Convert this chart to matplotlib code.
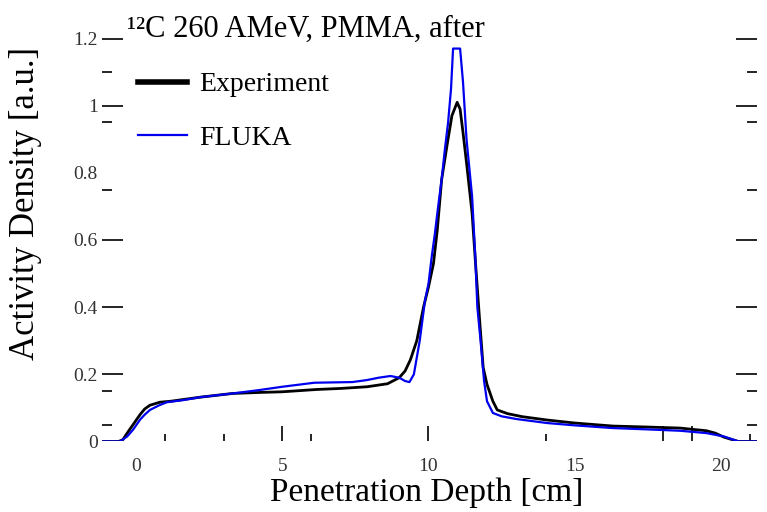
import matplotlib
matplotlib.use("Agg")
import matplotlib.pyplot as plt
from matplotlib.ticker import FixedLocator

plt.rcParams['font.family'] = ['Liberation Serif', 'DejaVu Serif']

# depth [cm] and activity density [a.u.]
x_exp = [-1.16, -0.6, -0.45, -0.3, -0.1, 0.14, 0.3, 0.48, 0.82, 1.2, 2.2, 3.3, 4.2,
         5.0, 6.2, 7.0, 7.9, 8.6, 9.0, 9.2, 9.38, 9.6, 9.83, 10.0, 10.17, 10.3,
         10.45, 10.63, 10.8, 10.98, 11.08, 11.18, 11.3, 11.49, 11.6, 11.74, 11.87,
         12.0, 12.2, 12.35, 12.7, 13.2, 14.05, 15.0, 16.3, 17.5, 18.6, 19.5, 19.8,
         20.1, 20.4, 20.6, 21.23]
y_exp = [0, 0, 0.005, 0.025, 0.05, 0.08, 0.097, 0.108, 0.117, 0.12, 0.132, 0.143, 0.146,
         0.148, 0.155, 0.158, 0.163, 0.172, 0.19, 0.21, 0.243, 0.30, 0.40, 0.46, 0.53, 0.63,
         0.78, 0.88, 0.97, 1.01, 0.99, 0.92, 0.83, 0.68, 0.54, 0.37, 0.22,
         0.17, 0.12, 0.094, 0.083, 0.074, 0.064, 0.055, 0.046, 0.043, 0.040, 0.032, 0.025,
         0.013, 0.005, 0.0, 0.0]

x_fluka = [-1.16, -0.55, -0.3, -0.1, 0.14, 0.3, 0.48, 0.8, 1.06, 1.6, 2.2, 3.3, 4.2,
           5.0, 6.1, 7.4, 7.9, 8.3, 8.7, 9.0, 9.2, 9.35, 9.5, 9.7, 9.88, 10.0, 10.11,
           10.22, 10.33, 10.45, 10.56, 10.67, 10.77, 10.84, 11.08, 11.18, 11.3, 11.49,
           11.6, 11.67, 11.78, 11.9, 12.0, 12.2, 12.5, 13.0, 14.05, 15.0, 16.3, 17.5,
           18.6, 19.5, 20.1, 20.4, 20.6, 21.23]
y_fluka = [0, 0, 0.015, 0.035, 0.065, 0.08, 0.094, 0.108, 0.117, 0.123, 0.132, 0.143, 0.153,
           0.163, 0.175, 0.177, 0.183, 0.19, 0.195, 0.19, 0.18, 0.177, 0.20, 0.30, 0.42, 0.47, 0.55,
           0.62, 0.70, 0.78, 0.87, 0.95, 1.05, 1.17, 1.17, 1.07, 0.90, 0.73,
           0.55, 0.40, 0.30, 0.18, 0.12, 0.085, 0.075, 0.067, 0.055, 0.048, 0.040, 0.036,
           0.032, 0.025, 0.015, 0.006, 0.0, 0.0]

xticks = [0, 5, 10, 15, 18, 19, 20]
xticklabels = ['0', '5', '10', '15', '', '', '20']
xminor = [1, 3, 6, 14, 21]
yticks = [0, 0.2, 0.4, 0.6, 0.8, 1.0, 1.2]
yticklabels = ['0', '0.2', '0.4', '0.6', '0.8', '1', '1.2']
yminor = [0.05, 0.15, 0.75, 0.95, 1.1]

fig = plt.figure(figsize=(7.67, 5.12), dpi=100)
ax = fig.add_axes([0.133, 0.1377, 0.854, 0.7871])

ax.plot(x_exp, y_exp, color='black', lw=2.0, label='Experiment')
ax.plot(x_fluka, y_fluka, color='#0000ee', lw=1.6, label='FLUKA')

ax.set_xlim(-1.16, 21.23)
ax.set_ylim(0, 1.2)
for s in ax.spines.values():
    s.set_visible(False)

ax.set_xticks(xticks)
ax.set_xticklabels(xticklabels)
ax.xaxis.set_minor_locator(FixedLocator(xminor))
ax.set_yticks(yticks)
ax.set_yticklabels(yticklabels)
ax.yaxis.set_minor_locator(FixedLocator(yminor))

ax.tick_params(axis='x', which='major', direction='in', length=11, width=1.2,
               labelsize=14, pad=12, colors='black', labelcolor='#333333')
ax.tick_params(axis='x', which='minor', direction='in', length=5, width=1.2)
ax.tick_params(axis='y', which='major', direction='in', length=15, width=1.2,
               labelsize=14, pad=3, right=True, labelcolor='#333333')
ax.tick_params(axis='y', which='minor', direction='in', length=7.5, width=1.2, right=True)

# ticks without marks in the reference
for i in [0, 3, 6]:
    t = ax.xaxis.get_major_ticks()[i]
    t.tick1line.set_visible(False)
for i in [0, 4]:
    t = ax.yaxis.get_major_ticks()[i]
    t.tick1line.set_visible(False)
    t.tick2line.set_visible(False)

fig.text(427 / 767, 1 - 501 / 512, 'Penetration Depth [cm]', fontsize=24,
         ha='center', va='baseline')
fig.text(26 / 767, 1 - 203 / 512, 'Activity Density [a.u.]', fontsize=25,
         rotation=90, ha='center', va='center')

fig.text(127 / 767, 1 - 37 / 512, '\u00b9\u00b2C 260 AMeV, PMMA, after', fontsize=22,
         va='baseline')

leg = ax.legend(loc='upper left', bbox_to_anchor=(124 / 767, 1 - 58 / 512),
                bbox_transform=fig.transFigure, frameon=False, fontsize=20,
                handlelength=1.75, handletextpad=0.45, labelspacing=1.0, borderpad=0)
leg.get_lines()[0].set_linewidth(4)
leg.get_lines()[1].set_linewidth(1.6)

fig.savefig('out.png', dpi=100)
